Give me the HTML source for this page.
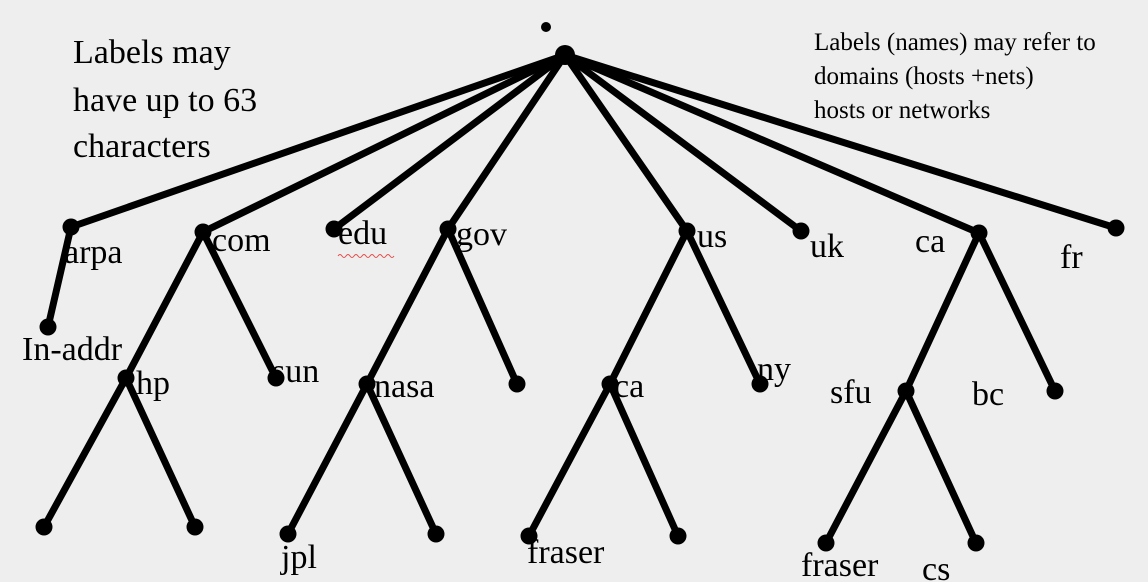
<!DOCTYPE html>
<html><head><meta charset="utf-8"><style>
html,body{margin:0;padding:0;background:#eeeeee;}
svg{display:block;}
text{font-family:"Liberation Serif","Times New Roman",Times,serif;fill:#000;}
</style></head><body>
<svg width="1148" height="582" viewBox="0 0 1148 582" font-family="'Liberation Serif', 'Times New Roman', Times, serif">
<rect width="1148" height="582" fill="#eeeeee"/>
<g stroke="#000" stroke-width="7" stroke-linecap="round">
<line x1="565" y1="55" x2="71" y2="227"/>
<line x1="565" y1="55" x2="203" y2="232"/>
<line x1="565" y1="55" x2="334" y2="229"/>
<line x1="565" y1="55" x2="448" y2="229"/>
<line x1="565" y1="55" x2="687" y2="231"/>
<line x1="565" y1="55" x2="801" y2="231"/>
<line x1="565" y1="55" x2="979" y2="233"/>
<line x1="565" y1="55" x2="1116" y2="228"/>
<line x1="71" y1="227" x2="48" y2="327"/>
<line x1="203" y1="232" x2="126" y2="378"/>
<line x1="203" y1="232" x2="276" y2="378"/>
<line x1="126" y1="378" x2="44" y2="527"/>
<line x1="126" y1="378" x2="195" y2="527"/>
<line x1="448" y1="229" x2="367" y2="384"/>
<line x1="448" y1="229" x2="517" y2="384"/>
<line x1="367" y1="384" x2="288" y2="534"/>
<line x1="367" y1="384" x2="436" y2="534"/>
<line x1="687" y1="231" x2="610" y2="384"/>
<line x1="687" y1="231" x2="760" y2="384"/>
<line x1="610" y1="384" x2="529" y2="536"/>
<line x1="610" y1="384" x2="678" y2="536"/>
<line x1="979" y1="233" x2="906" y2="391"/>
<line x1="979" y1="233" x2="1055" y2="391"/>
<line x1="906" y1="391" x2="826" y2="543"/>
<line x1="906" y1="391" x2="976" y2="543"/>
</g>
<g fill="#000">
<circle cx="546" cy="27" r="5"/>
<circle cx="565" cy="55" r="10"/>
<circle cx="71" cy="227" r="8.5"/><circle cx="48" cy="327" r="8.5"/>
<circle cx="203" cy="232" r="8.5"/><circle cx="126" cy="378" r="8.5"/><circle cx="276" cy="378" r="8.5"/>
<circle cx="44" cy="527" r="8.5"/><circle cx="195" cy="527" r="8.5"/>
<circle cx="334" cy="229" r="8.5"/>
<circle cx="448" cy="229" r="8.5"/><circle cx="367" cy="384" r="8.5"/><circle cx="517" cy="384" r="8.5"/>
<circle cx="288" cy="534" r="8.5"/><circle cx="436" cy="534" r="8.5"/>
<circle cx="687" cy="231" r="8.5"/><circle cx="610" cy="384" r="8.5"/><circle cx="760" cy="384" r="8.5"/>
<circle cx="529" cy="536" r="8.5"/><circle cx="678" cy="536" r="8.5"/>
<circle cx="801" cy="231" r="8.5"/>
<circle cx="979" cy="233" r="8.5"/><circle cx="906" cy="391" r="8.5"/><circle cx="1055" cy="391" r="8.5"/>
<circle cx="826" cy="543" r="8.5"/><circle cx="976" cy="543" r="8.5"/>
<circle cx="1116" cy="228" r="8.5"/>
</g>
<g font-size="34">
<text x="73" y="63">Labels may</text>
<text x="73" y="111">have up to 63</text>
<text x="73" y="157">characters</text>
</g>
<g font-size="25">
<text x="814" y="50">Labels (names) may refer to</text>
<text x="814" y="84">domains (hosts +nets)</text>
<text x="814" y="118">hosts or networks</text>
</g>
<g font-size="34">
<text x="64" y="263">arpa</text>
<text x="212" y="251">com</text>
<text x="338" y="244">edu</text>
<text x="456" y="245">gov</text>
<text x="22" y="360">In-addr</text>
<text x="136" y="394">hp</text>
<text x="272" y="382">sun</text>
<text x="374" y="397">nasa</text>
<text x="614" y="397">ca</text>
<text x="697" y="247">us</text>
<text x="757" y="380">ny</text>
<text x="810" y="257">uk</text>
<text x="915" y="252">ca</text>
<text x="1060" y="268">fr</text>
<text x="830" y="403">sfu</text>
<text x="972" y="405">bc</text>
<text x="281" y="568">jpl</text>
<text x="527" y="563">fraser</text>
<text x="801" y="576">fraser</text>
<text x="922" y="580">cs</text>
</g>
<path d="M338 256 q2 -3 4 0 t4 0 t4 0 t4 0 t4 0 t4 0 t4 0 t4 0 t4 0 t4 0 t4 0 t4 0 t4 0 t4 0" stroke="#e05050" stroke-width="1" fill="none"/>
</svg>
</body></html>
